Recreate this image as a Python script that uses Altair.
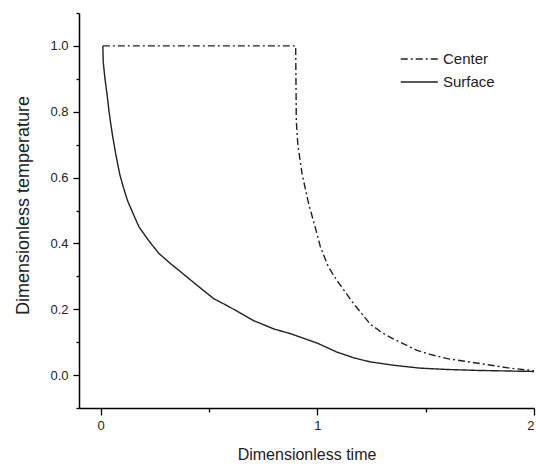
import altair as alt
import pandas as pd

# Surface curve (dimensionless time, dimensionless temperature)
surface_t = [0.01, 0.012, 0.02, 0.03, 0.037, 0.045, 0.055, 0.07, 0.088, 0.105, 0.124,
             0.15, 0.177, 0.22, 0.268, 0.32, 0.376, 0.45, 0.52, 0.6, 0.707, 0.8, 0.88,
             0.94, 1.0, 1.09, 1.17, 1.245, 1.35, 1.475, 1.6, 1.75, 2.0]
surface_v = [1.0, 0.95, 0.9, 0.85, 0.81, 0.77, 0.727, 0.67, 0.61, 0.57, 0.53,
             0.49, 0.45, 0.41, 0.37, 0.34, 0.31, 0.27, 0.233, 0.205, 0.165, 0.14, 0.125,
             0.111, 0.097, 0.07, 0.052, 0.04, 0.03, 0.021, 0.017, 0.014, 0.011]

# Center curve
center_t = [0.01, 0.9, 0.903, 0.91, 0.93, 0.96, 0.99, 1.014, 1.05, 1.09, 1.166,
            1.244, 1.3, 1.35, 1.46, 1.52, 1.6, 1.75, 1.88, 2.0]
center_v = [1.0, 1.0, 0.77, 0.7, 0.61, 0.52, 0.45, 0.39, 0.33, 0.288, 0.218,
            0.155, 0.128, 0.11, 0.075, 0.063, 0.05, 0.035, 0.022, 0.013]

series_names = ["Center", "Surface"]
y_ticks = [-0.1, 0.0, 0.1, 0.2, 0.3, 0.4, 0.5, 0.6, 0.7, 0.8, 0.9, 1.0, 1.1]
x_ticks = [0, 0.5, 1, 1.5, 2]

rows = []
for i, (t, v) in enumerate(zip(center_t, center_v)):
    rows.append({"t": t, "v": v, "series": "Center", "idx": i})
for i, (t, v) in enumerate(zip(surface_t, surface_v)):
    rows.append({"t": t, "v": v, "series": "Surface", "idx": i})
df = pd.DataFrame(rows)

FONT = "Liberation Sans"
INK = "#222222"

chart = alt.Chart(df).mark_line(strokeWidth=1.4, color=INK, clip=True).encode(
    x=alt.X("t:Q",
            scale=alt.Scale(domain=[-0.1, 2.0], nice=False, zero=False),
            axis=alt.Axis(
                title="Dimensionless time",
                values=x_ticks,
                labelExpr="datum.value % 1 == 0 ? format(datum.value, 'd') : ''",
                tickSize={"condition": {"test": "datum.value % 1 == 0", "value": 7}, "value": 4},
                labelPadding=4,
                titleFontSize=16,
                titleBaseline="middle",
                titleY=46,
                labelFontSize=13,
                grid=False,
            )),
    y=alt.Y("v:Q",
            scale=alt.Scale(domain=[-0.1, 1.1], nice=False, zero=False),
            axis=alt.Axis(
                title="Dimensionless temperature",
                values=y_ticks,
                labelExpr="abs(datum.value*5 - round(datum.value*5)) < 0.01 ? format(datum.value, '.1f') : ''",
                tickSize={"condition": {"test": "abs(datum.value*5 - round(datum.value*5)) < 0.01", "value": 6}, "value": 3},
                labelPadding=5,
                titleFontSize=18,
                titleBaseline="middle",
                titleAlign="center",
                titleAngle=270,
                titleX=-56,
                titleY=192,
                labelFontSize=13,
                grid=False,
            )),
    strokeDash=alt.StrokeDash(
        "series:N",
        scale=alt.Scale(domain=series_names, range=[[7, 3, 2, 3], [1, 0]]),
        legend=alt.Legend(
            title=None,
            orient="none",
            legendX=321,
            legendY=36,
            symbolType="M-1,0H3",
            symbolSize=342,
            symbolStrokeWidth=1.4,
            symbolStrokeColor=INK,
            labelFontSize=15,
            labelFont=FONT,
            labelColor=INK,
            labelOffset=23,
            rowPadding=5,
            padding=0,
        )),
    order="idx:Q",
).properties(
    width=455,
    height=395,
    background="white",
    autosize=alt.AutoSizeParams(type="none"),
    padding={"left": 79, "top": 13, "right": 2, "bottom": 58},
).configure_view(
    stroke=None
).configure_axis(
    domainColor="#000000",
    domainWidth=1.5,
    tickColor="#000000",
    tickWidth=1.3,
    grid=False,
    labelFont=FONT,
    titleFont=FONT,
    labelColor=INK,
    titleColor=INK,
    titleFontWeight="normal",
)

chart.save("out.html", embed_options={"renderer": "svg", "actions": False})
